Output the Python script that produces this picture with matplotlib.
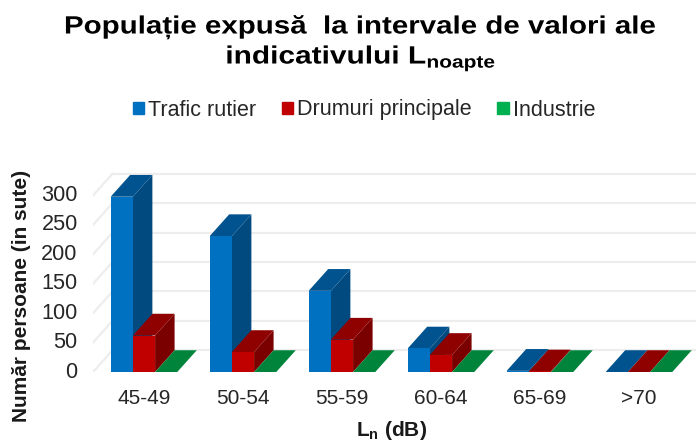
import matplotlib
matplotlib.use("Agg")
import matplotlib.pyplot as plt
from matplotlib.patches import Patch
from matplotlib.patheffects import AbstractPathEffect
from matplotlib.transforms import Affine2D, ScaledTranslation

plt.rcParams["font.family"] = ["Liberation Sans", "DejaVu Sans"]
plt.rcParams["mathtext.fontset"] = "custom"
plt.rcParams["mathtext.rm"] = "Liberation Sans"
plt.rcParams["mathtext.bf"] = "Liberation Sans:bold"

# Date
categorii = ["45-49", "50-54", "55-59", "60-64", "65-69", ">70"]
trafic_rutier = [298, 231, 138, 40, 2, 0]
drumuri_principale = [62, 34, 55, 29, 1, 0]
industrie = [0, 0, 0, 0, 0, 0]
valori_y = [0, 50, 100, 150, 200, 250, 300]

serii = [
    ("Trafic rutier", trafic_rutier, "#0070C0", "#00538F", "#004A7F", "#0070C0"),
    ("Drumuri principale", drumuri_principale, "#C00000", "#8F0000", "#7A0000", "#C00000"),
    ("Industrie", industrie, "#00B050", "#00843C", "#006F32", "#00B050"),
]

W, H = 696, 442


# titlul original are litere rarefiate, aici il intindem pe orizontala
class Intindere(AbstractPathEffect):
    def __init__(self, k, cx):
        super().__init__()
        self.k = k
        self.cx = cx

    def draw_path(self, renderer, gc, tpath, affine, rgbFace=None):
        t = affine + Affine2D().translate(-self.cx, 0).scale(self.k, 1).translate(self.cx, 0)
        renderer.draw_path(gc, tpath, t, rgbFace)


fig = plt.figure(figsize=(W / 100, H / 100), dpi=100)

# zona de desen: 93-696 px pe orizontala, 172-372 px pe verticala
ax = fig.add_axes([93 / W, (H - 372) / H, (W - 93) / W, 200 / H])
ax.set_xlim(-0.515, 5.576)
ax.set_ylim(0, 340)

latime = 22.2 / 99
adanc_x = 19.5 / 99
adanc_y = 37

# grila pe peretele din spate si pe cel din stanga
for v in valori_y:
    ax.plot([-0.515 + adanc_x, 5.576], [v + adanc_y, v + adanc_y], color="#EDEDED", lw=1.6, zorder=1)
    ax.plot([-0.515, -0.515 + adanc_x], [v, v + adanc_y], color="#EDEDED", lw=1.6, zorder=1)

# coloanele 3D, fiecare cu fata, capacul si latura
for i in range(len(categorii)):
    for j, (nume, valori, fata, capac, latura, _) in enumerate(serii):
        x0 = i - 1.5 * latime + j * latime
        x1 = x0 + latime
        v = valori[i]
        z = 3 + i * 3 + j
        ax.fill([x1, x1 + adanc_x, x1 + adanc_x, x1], [0, adanc_y, v + adanc_y, v], color=latura, lw=0, zorder=z)
        ax.fill([x0, x1, x1 + adanc_x, x0 + adanc_x], [v, v, v + adanc_y, v + adanc_y], color=capac, lw=0, zorder=z)
        ax.bar(x0, v, width=latime, align="edge", color=fata, lw=0, zorder=z)

ax.set_xticks(range(len(categorii)), categorii)
ax.set_yticks(valori_y)
ax.tick_params(length=0, colors="#262626")
ax.tick_params(axis="x", pad=12, labelsize=15)
ax.tick_params(axis="y", pad=11, labelsize=15.6)
for eticheta in ax.get_yticklabels():
    eticheta.set_transform(eticheta.get_transform() + ScaledTranslation(0, 0.025, fig.dpi_scale_trans))
for s in ax.spines.values():
    s.set_visible(False)

fig.text(360 / W, 1 - 27 / H, "Populație expusă  la intervale de valori ale",
         ha="center", va="center", fontsize=18, fontweight="bold",
         path_effects=[Intindere(1.18, 360)])
fig.text(361 / W, 1 - 58 / H, r"indicativului L$_{\mathbf{noapte}}$",
         ha="center", va="center", fontsize=18, fontweight="bold",
         path_effects=[Intindere(1.195, 361)])

legenda = [Patch(color=s[5], label=s[0]) for s in serii]
fig.legend(handles=legenda, ncol=3, loc="center", bbox_to_anchor=(364 / W, 1 - 110 / H),
           frameon=False, fontsize=15.5, handlelength=0.52, handleheight=0.52,
           handletextpad=0.2, columnspacing=1.19, labelcolor="#262626")

fig.text(22 / W, 1 - 296 / H, "Număr persoane (in sute)", rotation=90,
         ha="center", va="center", fontsize=15, fontweight="bold", color="#1a1a1a")
fig.text(392 / W, 1 - 431 / H, r"L$_{\mathbf{n}}$ (dB)",
         ha="center", va="center", fontsize=15, fontweight="bold", color="#1a1a1a")

fig.savefig("out.png", dpi=100)
